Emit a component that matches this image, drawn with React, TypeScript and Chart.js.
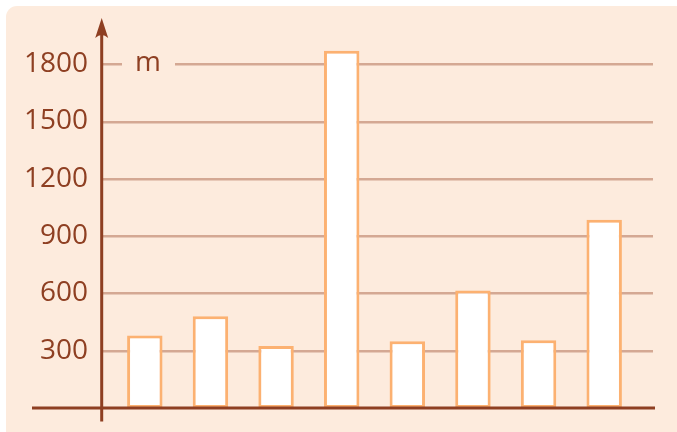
import React, { useEffect, useRef } from "react";
import { Chart, registerables } from "chart.js";

Chart.register(...registerables);

// Heights in metres, one per bar
const categories = ["A", "B", "C", "D", "E", "F", "G", "H"];
const heights = [380, 480, 325, 1870, 350, 615, 355, 985];
const tickValues = [300, 600, 900, 1200, 1500, 1800];
const unitLabel = "m";

const PANEL_BG = "#FDEBDD";
const GRID = "#D4A893";
const AXIS = "#8E3F22";
const TEXT = "#8E3F22";
const BAR_EDGE = "#FCB171";
const FONT = "'Open Sans', 'Noto Sans', sans-serif";

const framePlugin = {
  id: "frame",
  beforeDraw(chart: any) {
    const { ctx, width, height } = chart;
    ctx.save();
    ctx.fillStyle = "#ffffff";
    ctx.fillRect(0, 0, width, height);
    ctx.fillStyle = PANEL_BG;
    ctx.beginPath();
    ctx.roundRect(6, 6, width + 20, height + 20, 11);
    ctx.fill();
    ctx.restore();
  },
  beforeDatasetsDraw(chart: any) {
    const { ctx } = chart;
    const y = chart.scales.y;
    const axisX = 102;
    const gridRight = 653;
    ctx.save();
    ctx.strokeStyle = GRID;
    ctx.lineWidth = 2.5;
    const top = tickValues[tickValues.length - 1];
    for (const v of tickValues) {
      const py = Math.round(y.getPixelForValue(v)) + 0.25;
      ctx.beginPath();
      if (v === top) {
        // leave room for the unit label on the top line
        ctx.moveTo(axisX, py);
        ctx.lineTo(122, py);
        ctx.moveTo(175, py);
        ctx.lineTo(gridRight, py);
      } else {
        ctx.moveTo(axisX, py);
        ctx.lineTo(gridRight, py);
      }
      ctx.stroke();
    }
    // unit label
    ctx.fillStyle = TEXT;
    ctx.font = `28px ${FONT}`;
    ctx.textAlign = "center";
    ctx.textBaseline = "middle";
    ctx.fillText(unitLabel, 148, y.getPixelForValue(top) - 1);
    ctx.restore();
  },
  afterDatasetsDraw(chart: any) {
    const { ctx } = chart;
    const y = chart.scales.y;
    const axisX = 101.7;
    const baseY = y.getPixelForValue(0);
    ctx.save();
    ctx.strokeStyle = AXIS;
    ctx.fillStyle = AXIS;
    ctx.lineWidth = 3;
    // horizontal axis
    ctx.beginPath();
    ctx.moveTo(32, baseY);
    ctx.lineTo(655, baseY);
    ctx.stroke();
    // vertical axis
    ctx.beginPath();
    ctx.moveTo(axisX, 421.5);
    ctx.lineTo(axisX, 30);
    ctx.stroke();
    // arrow head
    ctx.beginPath();
    ctx.moveTo(axisX, 18);
    ctx.lineTo(axisX + 6.5, 38);
    ctx.quadraticCurveTo(axisX, 32, axisX - 6.5, 38);
    ctx.closePath();
    ctx.fill();
    ctx.restore();
  },
};

export default function App() {
  const canvasRef = useRef<HTMLCanvasElement | null>(null);

  useEffect(() => {
    const canvas = canvasRef.current;
    if (!canvas) return;
    const chart = new Chart(canvas, {
      type: "bar",
      data: {
        labels: categories,
        datasets: [
          {
            data: heights,
            backgroundColor: "#ffffff",
            borderColor: BAR_EDGE,
            borderWidth: 3,
            borderSkipped: false,
            categoryPercentage: 1,
            barPercentage: 0.54,
          },
        ],
      },
      options: {
        responsive: false,
        animation: false,
        devicePixelRatio: 1,
        layout: { padding: { left: 0, right: 40, top: 26, bottom: 24 } },
        plugins: {
          legend: { display: false },
          tooltip: { enabled: false },
        },
        scales: {
          x: { display: false },
          y: {
            min: 0,
            max: 2000,
            border: { display: false },
            grid: { display: false, drawTicks: false },
            afterBuildTicks(scale: any) {
              scale.ticks = tickValues.map((v) => ({ value: v }));
            },
            afterFit(scale: any) {
              scale.width = 112;
              scale.paddingTop = 0;
              scale.paddingBottom = 0;
            },
            ticks: {
              color: TEXT,
              padding: 24,
              font: { family: FONT, size: 28 },
              callback: (v: any) => String(v),
            },
          },
        },
      },
      plugins: [framePlugin],
    });
    return () => chart.destroy();
  }, []);

  return (
    <div style={{ position: "absolute", left: 0, top: 0, width: 677, height: 432 }}>
      <canvas ref={canvasRef} width={677} height={432} style={{ display: "block" }} />
    </div>
  );
}
